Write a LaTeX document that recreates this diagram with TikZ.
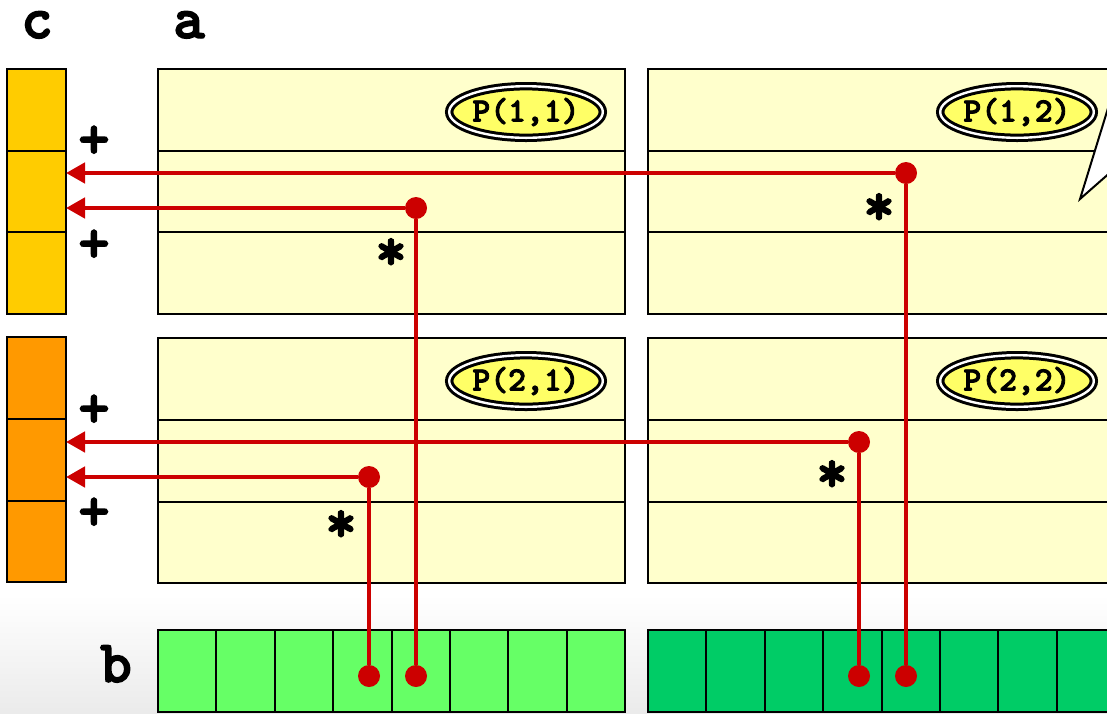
\documentclass[tikz,border=0pt]{standalone}
\usepackage{fontspec}
\newfontfamily\courier{lmmonolt10-bold.otf}[FakeBold=2.5]
\usetikzlibrary{arrows.meta,shapes.geometric,positioning}

\definecolor{ctop}{HTML}{FFCC00}
\definecolor{cbot}{HTML}{FF9900}
\definecolor{ablock}{HTML}{FFFFCC}
\definecolor{pyellow}{HTML}{FFFF66}
\definecolor{bleft}{HTML}{66FF66}
\definecolor{bright}{HTML}{00CC66}
\definecolor{wirered}{HTML}{CC0000}

\begin{document}
\begin{tikzpicture}
  [x=0.5pt,y=-0.5pt,
   ccell/.style={draw,line width=1pt,outer sep=0pt,inner sep=0pt,minimum width=29.5pt,minimum height=40.83pt},
   arow/.style={draw,line width=1pt,fill=ablock,outer sep=0pt,inner sep=0pt,minimum width=233.5pt,minimum height=40.83pt},
   bcell/.style={draw,line width=1pt,outer sep=0pt,inner sep=0pt,minimum width=29.2pt,minimum height=41pt},
   pname/.style={ellipse,draw,line width=1.5pt,double=white,double distance=1.2pt,fill=pyellow,
     minimum width=76.8pt,minimum height=25.8pt,inner xsep=-2pt,inner ysep=0pt,
     font=\courier\fontsize{17}{17}\selectfont},
   dot/.style={circle,fill=wirered,minimum size=11pt,inner sep=0pt},
   wire/.style={draw=wirered,line width=2.3pt},
   feed/.style={wire,-{Triangle[length=9.5pt,width=10pt]}},
   lbl/.style={anchor=base,inner sep=0pt,text height=0.5em,font=\courier\fontsize{30}{30}\selectfont}]
  \useasboundingbox (0,0) rectangle (1107,713);
  \shade[top color=white,bottom color=black!8] (0,595) rectangle (1107,713);

  % result vector c
  \node[ccell,fill=ctop] (c11) at (36.5,110) {};
  \node[ccell,fill=ctop,below=0pt of c11] (c12) {};
  \node[ccell,fill=ctop,below=0pt of c12] (c13) {};
  \node[ccell,fill=cbot] (c21) at (36.5,378) {};
  \node[ccell,fill=cbot,below=0pt of c21] (c22) {};
  \node[ccell,fill=cbot,below=0pt of c22] (c23) {};

  % matrix a, one block per process
  \node[arow] (a11-1) at (391.5,110) {};
  \node[arow,below=0pt of a11-1] (a11-2) {};
  \node[arow,below=0pt of a11-2] (a11-3) {};
  \node[arow] (a12-1) at (881.5,110) {};
  \node[arow,below=0pt of a12-1] (a12-2) {};
  \node[arow,below=0pt of a12-2] (a12-3) {};
  \node[arow] (a21-1) at (391.5,379) {};
  \node[arow,below=0pt of a21-1] (a21-2) {};
  \node[arow,below=0pt of a21-2] (a21-3) {};
  \node[arow] (a22-1) at (881.5,379) {};
  \node[arow,below=0pt of a22-1] (a22-2) {};
  \node[arow,below=0pt of a22-2] (a22-3) {};

  \node[pname] (p11) at (526,112) {P(1,1)};
  \node[pname] (p12) at (1017,112) {P(1,2)};
  \node[pname] (p21) at (526,381) {P(2,1)};
  \node[pname] (p22) at (1017,381) {P(2,2)};

  % speech bubble coming in from the right
  \draw[line width=1pt,fill=white] (1113,92) -- (1080,199) -- (1113,170) -- cycle;

  % vector b
  \foreach \i in {1,...,8} {
    \node[bcell,fill=bleft] (bl\i) at ({158+58.4*(\i-0.5)},671) {};
    \node[bcell,fill=bright] (br\i) at ({648+58.4*(\i-0.5)},671) {};
  }

  % products summed into c
  \node[dot] (d1) at (906,173) {};
  \node[dot] (d2) at (416,208) {};
  \node[dot] (d3) at (859,442) {};
  \node[dot] (d4) at (369,477) {};
  \node[dot] (e1) at (906,676) {};
  \node[dot] (e2) at (416,676) {};
  \node[dot] (e3) at (859,676) {};
  \node[dot] (e4) at (369,676) {};
  \coordinate (t1) at (d1 -| c12.east);
  \coordinate (t2) at (d2 -| c12.east);
  \coordinate (t3) at (d3 -| c22.east);
  \coordinate (t4) at (d4 -| c22.east);

\path [wire]
(e1) edge (d1)
(e2) edge (d2)
(e3) edge (d3)
(e4) edge (d4)
;
  \draw[feed] (d1) -- (t1);
  \draw[feed] (d2) -- (t2);
  \draw[feed] (d3) -- (t3);
  \draw[feed] (d4) -- (t4);

  \node[lbl] (lc) at (37,38) {c};
  \node[lbl] (la) at (189,38) {a};
  \node[lbl] (lb) at (116,682) {b};
  \node[lbl] (plus1) at (94,158) {+};
  \node[lbl] (plus2) at (94,262) {+};
  \node[lbl] (plus3) at (94,427) {+};
  \node[lbl] (plus4) at (94,530) {+};
  \node[lbl] (star1) at (879,225) {*};
  \node[lbl] (star2) at (391,270) {*};
  \node[lbl] (star3) at (832,492) {*};
  \node[lbl] (star4) at (341,542) {*};
\end{tikzpicture}
\end{document}
